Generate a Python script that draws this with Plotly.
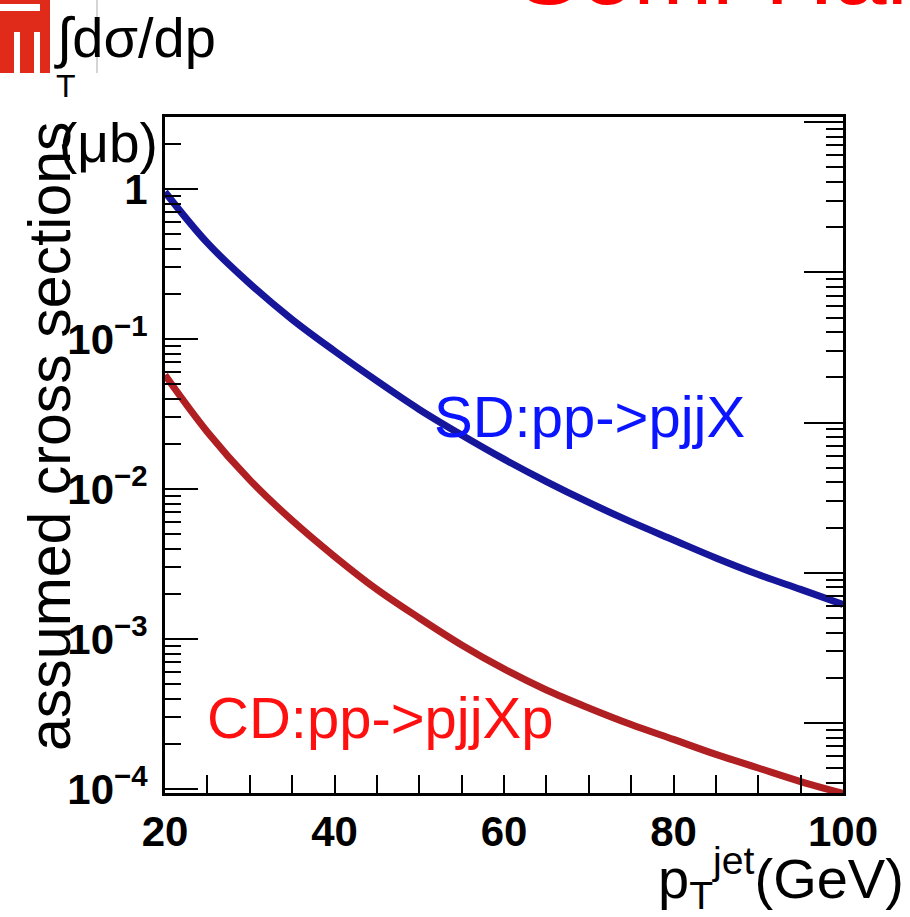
import plotly.graph_objects as go

# ---- data ----
pt = [20, 25, 30, 35, 40, 45, 50, 55, 60, 65, 70, 75, 80, 85, 90, 95, 100]
sd_xsec = [0.955, 0.437, 0.234, 0.135, 0.0832, 0.0525, 0.0339, 0.0229, 0.0158, 0.0112,
           0.00813, 0.00603, 0.00457, 0.00347, 0.00269, 0.00214, 0.0017]
cd_xsec = [0.0575, 0.024, 0.0115, 0.00617, 0.00355, 0.00214, 0.00138, 0.000912, 0.000631,
           0.000457, 0.000347, 0.000269, 0.000214, 0.00017, 0.000138, 0.000112, 0.0000933]

x_major = [20, 40, 60, 80, 100]
x_labels = ["20", "40", "60", "80", "100"]
x_minor = [25, 30, 35, 45, 50, 55, 65, 70, 75, 85, 90, 95]
y_major = [1e-4, 1e-3, 1e-2, 1e-1, 1]
y_labels = ["10<sup>−4</sup>", "10<sup>−3</sup>", "10<sup>−2</sup>", "10<sup>−1</sup>", "1"]
y_minor = [k * 10.0 ** e for e in range(-5, 2) for k in range(2, 10)]

W, H = 910, 917
L, R, T, B = 165, 843, 117, 793
pw, ph = R - L, B - T


def px(x):
    return (x - L) / pw


def py(y):
    return (B - y) / ph


fig = go.Figure()
fig.add_trace(go.Scatter(x=pt, y=sd_xsec, mode="lines", line=dict(color="#16169a", width=7, shape="spline"),
                         showlegend=False, hoverinfo="skip"))
fig.add_trace(go.Scatter(x=pt, y=cd_xsec, mode="lines", line=dict(color="#b01f22", width=7, shape="spline"),
                         showlegend=False, hoverinfo="skip"))
fig.add_trace(go.Scatter(x=[], y=[], yaxis="y2", showlegend=False, hoverinfo="skip"))

tickfont = dict(family="Liberation Sans", size=42, color="black", weight="bold")

fig.update_layout(
    width=W, height=H,
    margin=dict(l=L, r=W - R, t=T, b=H - B, pad=0),
    paper_bgcolor="white", plot_bgcolor="white",
    xaxis=dict(range=[20, 100], tickvals=x_major, ticktext=x_labels, ticks="inside", ticklen=18,
               tickwidth=2, tickcolor="black", showgrid=False, zeroline=False,
               showline=True, linewidth=3, linecolor="black", mirror=True, tickfont=tickfont,
               ticklabelstandoff=0,
               minor=dict(tickvals=x_minor, ticks="inside", ticklen=18, tickwidth=2, tickcolor="black",
                          showgrid=False)),
    yaxis=dict(type="log", range=[-4.027, 0.48], tickvals=y_major, ticktext=y_labels, ticks="inside",
               ticklen=33, tickwidth=2, tickcolor="black", showgrid=False, zeroline=False,
               showline=True, linewidth=3, linecolor="black", mirror=True, tickfont=tickfont,
               ticklabelstandoff=6,
               minor=dict(tickvals=y_minor, ticks="inside", ticklen=16, tickwidth=2, tickcolor="black",
                          showgrid=False)),
    yaxis2=dict(type="log", range=[-4.466, 0.034], overlaying="y", side="right", ticks="inside",
                tickvals=y_major, ticklen=39, tickwidth=2, tickcolor="black", showticklabels=False,
                showgrid=False, zeroline=False, showline=False,
                minor=dict(tickvals=y_minor, ticks="inside", ticklen=17, tickwidth=2, tickcolor="black",
                           showgrid=False)),
)

txt = dict(family="Liberation Sans", color="black")
ann = [
    dict(x=px(50), y=py(436), text="assumed cross sections", textangle=-90,
         xanchor="center", yanchor="middle", font=dict(size=59, **txt)),
    dict(x=px(108), y=py(143), text="(μb)", xanchor="center", yanchor="middle",
         font=dict(size=55, **txt)),
    dict(x=px(52), y=py(38), text="∫dσ/dp", xanchor="left", yanchor="middle",
         font=dict(size=56, **txt)),
    dict(x=px(66), y=py(86), text="T", xanchor="center", yanchor="middle", font=dict(size=32, **txt)),
    dict(x=px(906), y=py(878), text="p<sub>T</sub><sup>jet</sup>(GeV)", xanchor="right",
         yanchor="middle", font=dict(size=56, **txt)),
    dict(x=px(432), y=py(416), text="SD:pp->pjjX", xanchor="left", yanchor="middle",
         font=dict(family="Liberation Sans", size=58, color="#0a14ff")),
    dict(x=px(205), y=py(717), text="CD:pp->pjjXp", xanchor="left", yanchor="middle",
         font=dict(family="Liberation Sans", size=58, color="#ff1010")),
    dict(x=px(515), y=py(26), text="Semi-Hard", xanchor="left", yanchor="bottom",
         font=dict(family="Liberation Sans", size=95, color="#ff0000")),
]
for a in ann:
    a.update(xref="paper", yref="paper", showarrow=False)
fig.update_layout(annotations=ann)

# logo (red block) and thin grey line at the top left
shapes = [
    dict(type="rect", x0=px(0), x1=px(50), y0=py(0), y1=py(73), fillcolor="#e02a1a", line_width=0),
    dict(type="rect", x0=px(0), x1=px(40), y0=py(4), y1=py(11), fillcolor="white", line_width=0),
    dict(type="rect", x0=px(14), x1=px(20), y0=py(32), y1=py(73), fillcolor="white", line_width=0),
    dict(type="rect", x0=px(34), x1=px(40), y0=py(32), y1=py(73), fillcolor="white", line_width=0),
    dict(type="line", x0=px(97), x1=px(97), y0=py(0), y1=py(73), line=dict(color="#aaaaaa", width=1)),
]
for s in shapes:
    s.update(xref="paper", yref="paper", layer="above")
fig.update_layout(shapes=shapes)

fig.write_html("out.html")
